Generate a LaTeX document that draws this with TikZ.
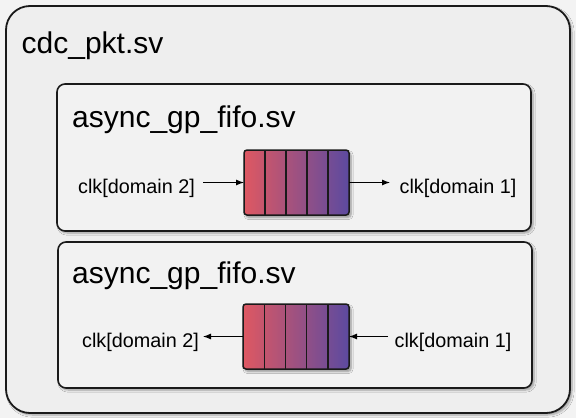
\documentclass[tikz,border=0pt]{standalone}
\usepackage{fontspec}
\setmainfont{Liberation Sans}
\usetikzlibrary{shadows.blur,arrows.meta,calc}
\definecolor{pagebg}{HTML}{F3F3F3}
\definecolor{outerfill}{HTML}{EEEEEE}
\definecolor{innerfill}{HTML}{F2F2F2}
\definecolor{edge}{HTML}{1A1A1A}
\definecolor{fifoleft}{HTML}{DE5862}
\definecolor{fiforight}{HTML}{5C4AA0}
\tikzset{
  outerbox/.style={draw=edge, line width=1.8pt, fill=outerfill, rounded corners=24pt,
    inner sep=0pt, outer sep=0pt, anchor=north west,
    blur shadow={shadow xshift=2pt, shadow yshift=-2pt, shadow blur steps=6, shadow opacity=35}},
  innerbox/.style={draw=edge, line width=1.6pt, fill=innerfill, rounded corners=8pt,
    inner sep=0pt, outer sep=0pt, anchor=north west,
    blur shadow={shadow xshift=2pt, shadow yshift=-2pt, shadow blur steps=6, shadow opacity=35}},
  fifobox/.style={draw=edge, line width=1.5pt, rounded corners=3pt, left color=fifoleft,
    right color=fiforight, middle color=fifoleft!50!fiforight,
    inner sep=0pt, outer sep=0pt, anchor=north west,
    blur shadow={shadow xshift=2pt, shadow yshift=-2.5pt, shadow blur steps=6, shadow opacity=40}},
  divider/.style={draw=edge, line width=1.4pt},
  bigtitle/.style={font=\fontsize{30}{36}\selectfont, text=black, inner sep=0pt, anchor=base west},
  clklabel/.style={font=\fontsize{19.8}{23}\selectfont, text=black, inner sep=0pt, anchor=base west},
  arr/.style={draw=black, line width=1pt, -{Latex[length=8pt,width=6pt]}}
}
\begin{document}
\begin{tikzpicture}[x=1pt,y=-1pt]
\useasboundingbox[fill=pagebg] (0,0) rectangle (576,418);

\node[outerbox, minimum width=564pt, minimum height=407pt] (pkt) at (6,6) {};
\node[bigtitle] (pkttitle) at (21.5,53) {cdc\_pkt.sv};

% first fifo wrapper
\node[innerbox, minimum width=474pt, minimum height=147pt] (wrapA) at (57,84) {};
\node[bigtitle] (titleA) at (72,127) {async\_gp\_fifo.sv};
\node[fifobox, minimum width=105pt, minimum height=65pt] (fifoA) at (244,150) {};
\foreach \i in {1,2,3,4} {
  \draw[divider] ($(fifoA.north west)!\i/5!(fifoA.north east)$) -- ($(fifoA.south west)!\i/5!(fifoA.south east)$);
}
\node[clklabel] (clkAin) at (78,193) {clk[domain 2]};
\node[clklabel] (clkAout) at (399.5,193) {clk[domain 1]};
\coordinate (srcA) at (203,182.5);
\coordinate (dstA) at (390,182.5);
\draw[arr] (srcA) -- (fifoA.west);
\draw[arr] (fifoA.east) -- (dstA);

% second fifo wrapper
\node[innerbox, minimum width=474pt, minimum height=146pt] (wrapB) at (58,242) {};
\node[bigtitle] (titleB) at (72,283) {async\_gp\_fifo.sv};
\node[fifobox, minimum width=106pt, minimum height=65pt] (fifoB) at (243,304) {};
\foreach \i in {1,2,3,4} {
  \draw[divider] ($(fifoB.north west)!\i/5!(fifoB.north east)$) -- ($(fifoB.south west)!\i/5!(fifoB.south east)$);
}
\node[clklabel] (clkBout) at (82,347) {clk[domain 2]};
\node[clklabel] (clkBin) at (394.5,347) {clk[domain 1]};
\coordinate (dstB) at (203,336.5);
\coordinate (srcB) at (388,336.5);
\draw[arr] (fifoB.west) -- (dstB);
\draw[arr] (srcB) -- (fifoB.east);
\end{tikzpicture}
\end{document}
